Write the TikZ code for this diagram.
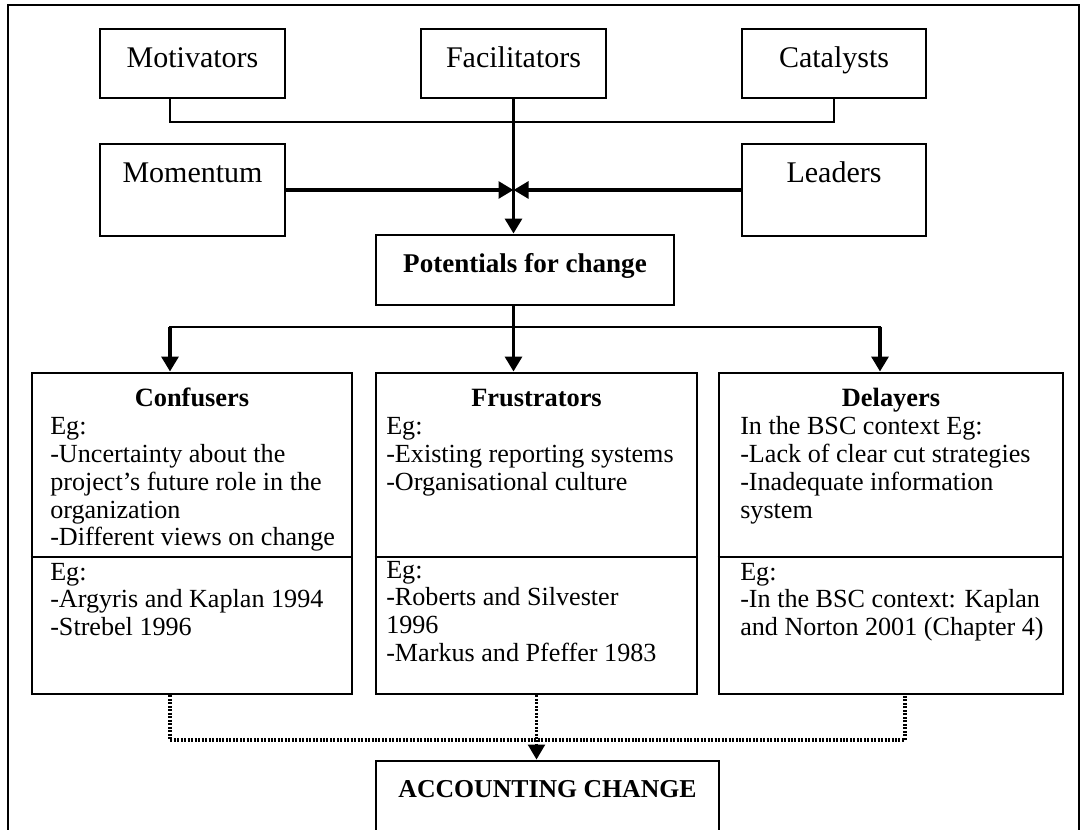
\documentclass[tikz,border=0pt]{standalone}
\usepackage{fontspec}
\setmainfont{Liberation Serif}
\usetikzlibrary{arrows.meta,fit}
\begin{document}
\begin{tikzpicture}[x=0.75pt,y=-0.75pt,
  box/.style={draw, line width=2.1pt, inner sep=0pt},
  thinln/.style={line width=1.6pt},
  thickln/.style={line width=2.9pt},
  divln/.style={line width=1.5pt},
  arr/.style={-{Triangle[length=11.25pt,width=12.5pt]}},
  dotln/.style={line width=2.4pt, dash pattern=on 1.5pt off 1.1pt},
  toptxt/.style={anchor=base, inner sep=0pt, font=\fontsize{22.5}{27}\selectfont},
  body/.style={anchor=base west, inner sep=0pt, font=\fontsize{19.6}{20.8}\selectfont},
  head/.style={anchor=base, inner sep=0pt, font=\fontsize{19.8}{20.8}\selectfont\bfseries},
]
\clip (0,0) rectangle (1082,830);
\fill[white] (0,0) rectangle (1082,830);
% outer frame (open at the bottom)
\draw[line width=1.8pt] (8,840) -- (8,5) -- (1079,5) -- (1079,840);

% top boxes
\node[box, fit={(100,29) (285,98)}] (mot) {};
\node[box, fit={(421,29) (606,98)}] (fac) {};
\node[box, fit={(742,29) (926,98)}] (cat) {};
\node[box, fit={(100,144) (285,236)}] (mom) {};
\node[box, fit={(742,144) (926,236)}] (lead) {};
\node[box, fit={(376,235) (674,305)}] (pot) {};

\node[toptxt] (motT) at (192.5,68) {Motivators};
\node[toptxt] (facT) at (513.5,68) {Facilitators};
\node[toptxt] (catT) at (834,68) {Catalysts};
\node[toptxt] (momT) at (192.5,183) {Momentum};
\node[toptxt] (leadT) at (834,183) {Leaders};
\node[anchor=base, inner sep=0pt, font=\fontsize{20.3}{24}\selectfont\bfseries] (potT) at (525,273) {Potentials for change};

% lower boxes
\node[box, fit={(32,373) (352,694)}] (con) {};
\node[box, fit={(376,373) (697,694)}] (fru) {};
\node[box, fit={(719,373) (1063,694)}] (del) {};
\node[box, fit={(376,761) (719,845)}] (acc) {};

\draw[divln] (con.west |- 0,557) -- (con.east |- 0,557);
\draw[divln] (fru.west |- 0,557) -- (fru.east |- 0,557);
\draw[divln] (del.west |- 0,557) -- (del.east |- 0,557);

% connectors (top)
\draw[thinln] ([xshift=-16.9pt]mot.south) -- ++(0,23) -| (cat.south);
\draw[thickln, arr] (fac.south) -- (fac.south |- pot.north);
\draw[thickln, arr] (mom.east) -- (fac.south |- mom.east);
\draw[thickln, arr] (lead.west) -- (fac.south |- lead.west);

% connectors (middle)
\coordinate (hl) at (170,327);
\coordinate (hr) at (880,327);
\draw[thinln, line cap=rect] (hl) -- (hr);
\draw[thickln, arr] (fac.south |- pot.south) -- (fac.south |- fru.north);
\draw[thickln, arr] (hl) -- (hl |- con.north);
\draw[thickln, arr] (hr) -- (hr |- del.north);

% dotted connectors (bottom)
\coordinate (dl) at (170,740);
\coordinate (dr) at (905,740);
\draw[dotln] (dl |- con.south) -- (dl) -- (dr) -- (dr |- del.south);
\draw[dotln, arr] (fru.south) -- (fru.south |- acc.north);

% texts of lower boxes
\node[head] (conH) at (192,407) {Confusers};
\node[body] (conA) at (50,435) {\begin{tabular}[t]{@{}l@{}}Eg:\\-Uncertainty about the\\project's future role in the\\organization\\-Different views on change\end{tabular}};
\node[body] (conB) at (50,580) {\begin{tabular}[t]{@{}l@{}}Eg:\\-Argyris and Kaplan 1994\\-Strebel 1996\end{tabular}};

\node[head] (fruH) at (536.5,407) {Frustrators};
\node[body] (fruA) at (386,435) {\begin{tabular}[t]{@{}l@{}}Eg:\\-Existing reporting systems\\-Organisational culture\end{tabular}};
\node[body] (fruB) at (386,578) {\begin{tabular}[t]{@{}l@{}}Eg:\\-Roberts and Silvester\\1996\\-Markus and Pfeffer 1983\end{tabular}};

\node[head] (delH) at (891,407) {Delayers};
\node[body] (delA) at (740,435) {\begin{tabular}[t]{@{}l@{}}In the BSC context Eg:\\-Lack of clear cut strategies\\-Inadequate information\\system\end{tabular}};
\node[body] (delB) at (740,580) {\begin{tabular}[t]{@{}l@{}}Eg:\\-In the BSC context: Kaplan\\and Norton 2001 (Chapter 4)\end{tabular}};

\node[anchor=base, inner sep=0pt, font=\fontsize{19.3}{22}\selectfont\bfseries] (accT) at (547.5,797) {ACCOUNTING CHANGE};
\end{tikzpicture}
\end{document}
